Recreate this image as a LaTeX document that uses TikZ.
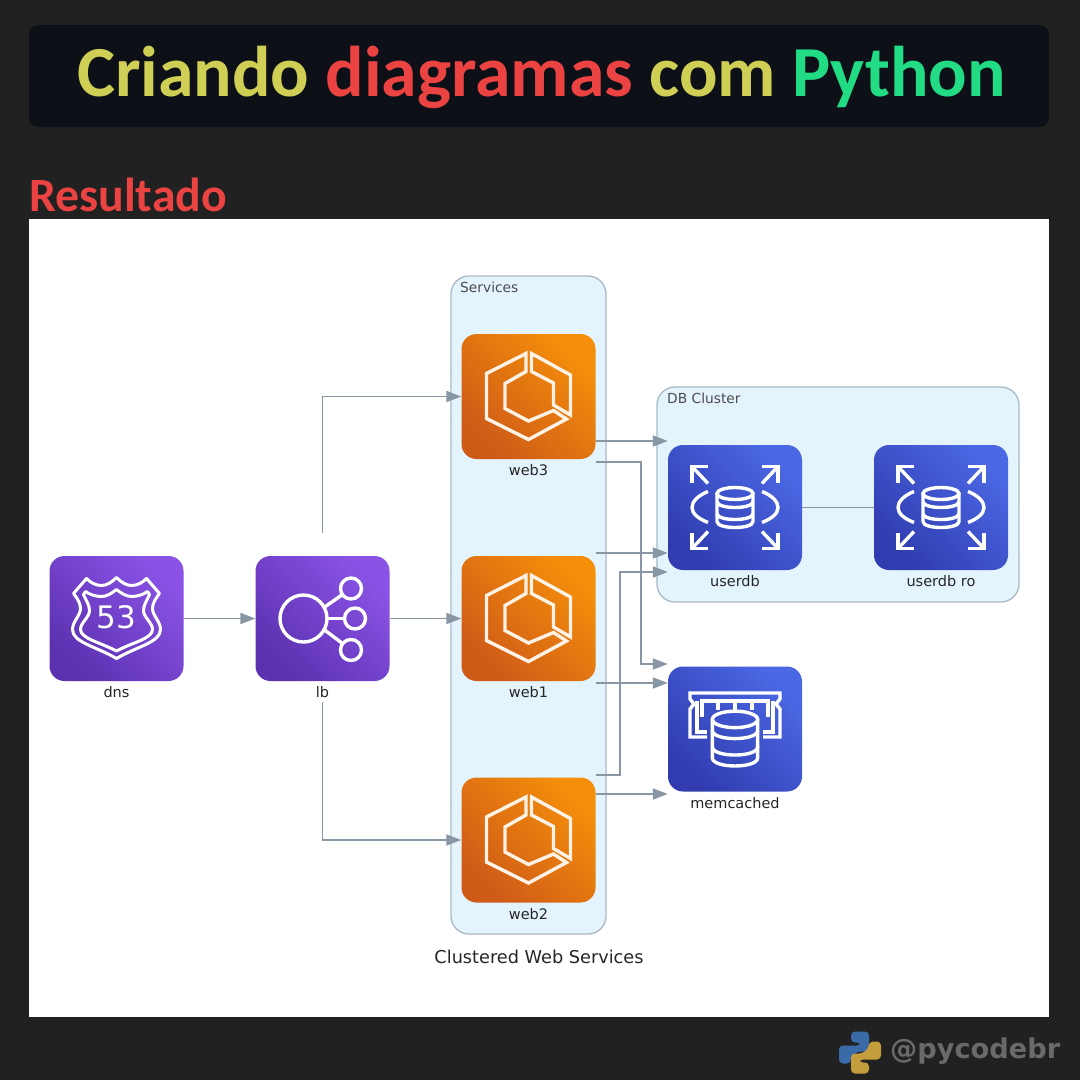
\documentclass[tikz,border=0pt]{standalone}
\usepackage{fontspec}
\setmainfont{DejaVu Sans}
\newfontfamily\titlefont{Carlito}[BoldFont={Carlito Bold}]
\usetikzlibrary{calc,arrows.meta}
\definecolor{pagebg}{HTML}{212121}
\definecolor{titlebg}{HTML}{0D1117}
\definecolor{titleyellow}{HTML}{CFCF55}
\definecolor{titlered}{HTML}{EB4242}
\definecolor{titlegreen}{HTML}{22DC85}
\definecolor{clusterfill}{HTML}{E4F4FD}
\definecolor{clusterline}{HTML}{A9B9C6}
\definecolor{flowgray}{HTML}{8997A5}
\definecolor{markgray}{HTML}{6A6A6A}
\definecolor{snakeblue}{HTML}{3A6BA8}
\definecolor{snakeyellow}{HTML}{C49E3C}
\definecolor{purplelight}{HTML}{8A53E6}
\definecolor{purpledark}{HTML}{5C31B0}
\definecolor{orangelight}{HTML}{F58F0A}
\definecolor{orangedark}{HTML}{CE5A18}
\definecolor{bluelight}{HTML}{4B68E4}
\definecolor{bluedark}{HTML}{303CAF}
\tikzset{
  iconbox/.style={minimum width=134pt,minimum height=125pt,rounded corners=15pt,inner sep=0pt,
    label={[caption]below:#1}},
  purplebox/.style={iconbox=#1,top color=purplelight,bottom color=purpledark,shading angle=-45},
  orangebox/.style={iconbox=#1,top color=orangelight,bottom color=orangedark,shading angle=-45},
  bluebox/.style={iconbox=#1,top color=bluelight,bottom color=bluedark,shading angle=-45},
  caption/.style={text=black!85,font=\fontsize{14.5}{18}\selectfont,inner sep=0pt,yshift=-5.5pt},
  cluster/.style={draw=clusterline,fill=clusterfill,line width=1.3pt,rounded corners=18pt,inner sep=0pt},
  clustername/.style={text=black!70,font=\fontsize{13.8}{17}\selectfont,inner sep=0pt,anchor=west},
  flow/.style={draw=flowgray,line width=1.9pt,-{Triangle[length=15pt,width=11pt]}},
  plainflow/.style={draw=flowgray,line width=1.9pt},
  glyph/.style={draw=white,line width=3.4pt,fill=none},
  pics/ecsglyph/.style={code={
    \draw[glyph,draw=white!90!orange] (-2.5,-43)--(-42,-23)--(-42,22)--(0,43)--(38,22.5)--(25,14)--(0,24.5)
      --(-23.5,12)--(-23.5,-13)--(-2.5,-25)--cycle;
    \draw[glyph,draw=white!90!orange] (3,-43)--(42,-21.5)--(42,18.5)--(25,8.5)--(25,-13.5)--(3,-25)--cycle;
  }},
  pics/dbglyph/.style={code={
    \draw[glyph] (0,-16.5) ellipse [x radius=18,y radius=6];
    \draw[glyph] (-18,-16.5)--(-18,11.5) .. controls (-18,19.5) and (18,19.5) .. (18,11.5)--(18,-16.5);
    \foreach \b in {-8.5,3.5}
      \draw[glyph] (-18,\b) .. controls (-18,\b+8) and (18,\b+8) .. (18,\b);
  }},
  pics/rdsglyph/.style={code={
    \foreach \sx/\sy in {1/1,1/-1,-1/1,-1/-1}{
      \begin{scope}[xscale=\sx,yscale=\sy]
        \draw[glyph] (27,24)--(43,41);
        \draw[glyph] (27,41)--(43,41)--(43,25);
      \end{scope}
    }
    \draw[glyph] (-27,-16) .. controls (-37,-12) and (-43,-6) .. (-43,0) .. controls (-43,6) and (-37,11) .. (-27,15);
    \draw[glyph] (27,-16) .. controls (37,-12) and (43,-6) .. (43,0) .. controls (43,6) and (37,11) .. (27,15);
    \pic at (0,2.5) {dbglyph};
  }},
  pics/ramglyph/.style={code={
    \draw[glyph] (-28,8)--(-45,8)--(-45,-20)--(-41,-25)--(-45,-30)--(-45,-36)--(45,-36)
      --(45,-30)--(41,-25)--(45,-20)--(45,8)--(28,8);
    \draw[glyph] (-28,3)--(-38,3)--(-38,-28);
    \draw[glyph] (28,3)--(38,3)--(38,-28);
    \draw[glyph] (-33,-12)--(-33,-28)--(33,-28)--(33,-12);
    \foreach \t in {-17,0,17}
      \draw[glyph] (\t,-28)--(\t,-19);
    \pic[xscale=1.26,yscale=1.37] at (0,13) {dbglyph};
  }},
  pics/routeglyph/.style={code={
    \draw[glyph,line width=3pt,line join=round] (0,-41) .. controls (-5,-36) and (-10,-33) .. (-15,-33)
      .. controls (-21,-33) and (-26,-36) .. (-30,-40)--(-43,-25) .. controls (-39,-20) and (-36,-15) .. (-36,-10)
      .. controls (-36,-3) and (-44,3) .. (-44,11) .. controls (-44,24) and (-20,28) .. (0,40)
      .. controls (20,28) and (44,24) .. (44,11) .. controls (44,3) and (36,-3) .. (36,-10)
      .. controls (36,-15) and (39,-20) .. (43,-25)--(30,-40) .. controls (26,-36) and (21,-33) .. (15,-33)
      .. controls (10,-33) and (5,-36) .. (0,-41)--cycle;
    \draw[glyph,line width=3pt,line join=round] (0,-29) .. controls (-5,-25) and (-10,-22) .. (-15,-22)
      .. controls (-21,-22) and (-27,-24) .. (-31,-27)--(-33,-24) .. controls (-31,-19) and (-27,-14) .. (-27,-8)
      .. controls (-27,-1) and (-36,4) .. (-36,11) .. controls (-36,20) and (-16,24) .. (0,32.5)
      .. controls (16,24) and (36,20) .. (36,11) .. controls (36,4) and (27,-1) .. (27,-8)
      .. controls (27,-14) and (31,-19) .. (33,-24)--(31,-27) .. controls (27,-24) and (21,-22) .. (15,-22)
      .. controls (10,-22) and (5,-25) .. (0,-29)--cycle;
    \node[text=white,inner sep=0pt,font=\fontsize{31}{31}\selectfont] (routenum) at (0,-1) {53};
  }},
  pics/lbglyph/.style={code={
    \draw[glyph] (-19,0) circle [radius=23.5];
    \draw[glyph] (28.5,-30) circle [radius=10.5];
    \draw[glyph] (32.5,0) circle [radius=10.5];
    \draw[glyph] (28.5,31.5) circle [radius=10.5];
    \draw[glyph] (1.5,-11)--(20,-24);
    \draw[glyph] (4.5,0)--(22,0);
    \draw[glyph] (1.5,11)--(20,25);
  }},
  snake/.style={rounded corners=4pt}
}
\begin{document}
\begin{tikzpicture}[x=1pt,y=-1pt]
\path[use as bounding box,fill=pagebg] (0,0) rectangle (1080,1080);
% header
\fill[titlebg,rounded corners=9pt] (29,25) rectangle (1049,127);
\node[inner sep=0pt,font=\titlefont\bfseries\fontsize{71.8}{74}\selectfont] (title) at (541.5,77)
  {\textcolor{titleyellow}{Criando} \textcolor{titlered}{diagramas} \textcolor{titleyellow}{com} \textcolor{titlegreen}{Python}};
\node[inner sep=0pt,anchor=west,text=titlered,font=\titlefont\bfseries\fontsize{47.8}{50}\selectfont] (result) at (29,195) {Resultado};
\fill[white] (29,219) rectangle (1049,1017);
% clusters
\node[cluster,minimum width=155pt,minimum height=658pt] (services) at (528.5,605) {};
\node[cluster,minimum width=362pt,minimum height=215pt] (dbcluster) at (838,494.5) {};
\node[clustername] (servicesname) at (460,287) {Services};
\node[clustername] (dbname) at (667,398) {DB Cluster};
\node[inner sep=0pt,text=black!85,font=\fontsize{17.7}{21}\selectfont] (graphname) at (539,957) {Clustered Web Services};
% nodes
\node[purplebox=dns] (dns) at (116.5,618.5) {};
\node[purplebox=lb] (lb) at (322.5,618.5) {};
\node[orangebox=web3] (web3) at (528.5,396.5) {};
\node[orangebox=web1] (web1) at (528.5,618.5) {};
\node[orangebox=web2] (web2) at (528.5,840) {};
\node[bluebox=userdb] (userdb) at (735,507.5) {};
\node[bluebox=userdb ro] (userdbro) at (941,507.5) {};
\node[bluebox=memcached] (memcached) at (735,729) {};
\pic at (dns) {routeglyph};
\pic at (lb) {lbglyph};
\foreach \n in {web3,web1,web2}
  \pic at (\n) {ecsglyph};
\pic at (userdb) {rdsglyph};
\pic at (userdbro) {rdsglyph};
\pic at (memcached) {ramglyph};
% free ends of the connectors
\coordinate (lbup) at ($(lb.north)+(0,-23)$);
\coordinate (lbdown) at ($(lb.south)+(0,21)$);
\coordinate (w3a) at ($(web3.east)+(0,44.5)$);
\coordinate (w3b) at ($(web3.east)+(0,65.5)$);
\coordinate (w1a) at ($(web1.east)+(0,-65.5)$);
\coordinate (w1b) at ($(web1.east)+(0,64.5)$);
\coordinate (w2a) at ($(web2.east)+(0,-65)$);
\coordinate (w2b) at ($(web2.east)+(0,-46)$);
\coordinate (udba) at ($(userdb.west)+(0,64.5)$);
\coordinate (mema) at ($(memcached.west)+(0,-65)$);
% connectors
\draw[flow] (dns) -- (lb);
\draw[flow] (lb) -- (web1);
\draw[flow] (lbup) |- (web3.west);
\draw[flow] (lbdown) |- (web2.west);
\draw[flow] (w3a) -- (w3a -| userdb.west);
\draw[flow] (w3b) -- ++(45,0) |- (mema);
\draw[flow] (w1a) -- (w1a -| userdb.west);
\draw[flow] (w1b) -- (w1b -| memcached.west);
\draw[flow] (w2a) -- ++(24,0) |- (udba);
\draw[flow] (w2b) -- (w2b -| memcached.west);
\draw[plainflow] (userdb) -- (userdbro);
% watermark
\begin{scope}[shift={(860,1052.5)}]
\fill[snake,fill=snakeblue] (-9,-21)--(9,-21)--(9,-1)--(-3,-1)--(-9,5)--(-9,11)--(-21,11)--(-21,-7)--(1,-7)--(1,-10)--(-9,-10)--cycle;
\fill[snake,fill=snakeyellow] (9,21)--(-9,21)--(-9,1)--(3,1)--(9,-5)--(9,-11)--(21,-11)--(21,7)--(-1,7)--(-1,10)--(9,10)--cycle;
\end{scope}
\node[inner sep=0pt,anchor=west,text=markgray,font=\bfseries\fontsize{27.2}{32}\selectfont] (mark) at (890,1051) {@pycodebr};
\end{tikzpicture}
\end{document}
